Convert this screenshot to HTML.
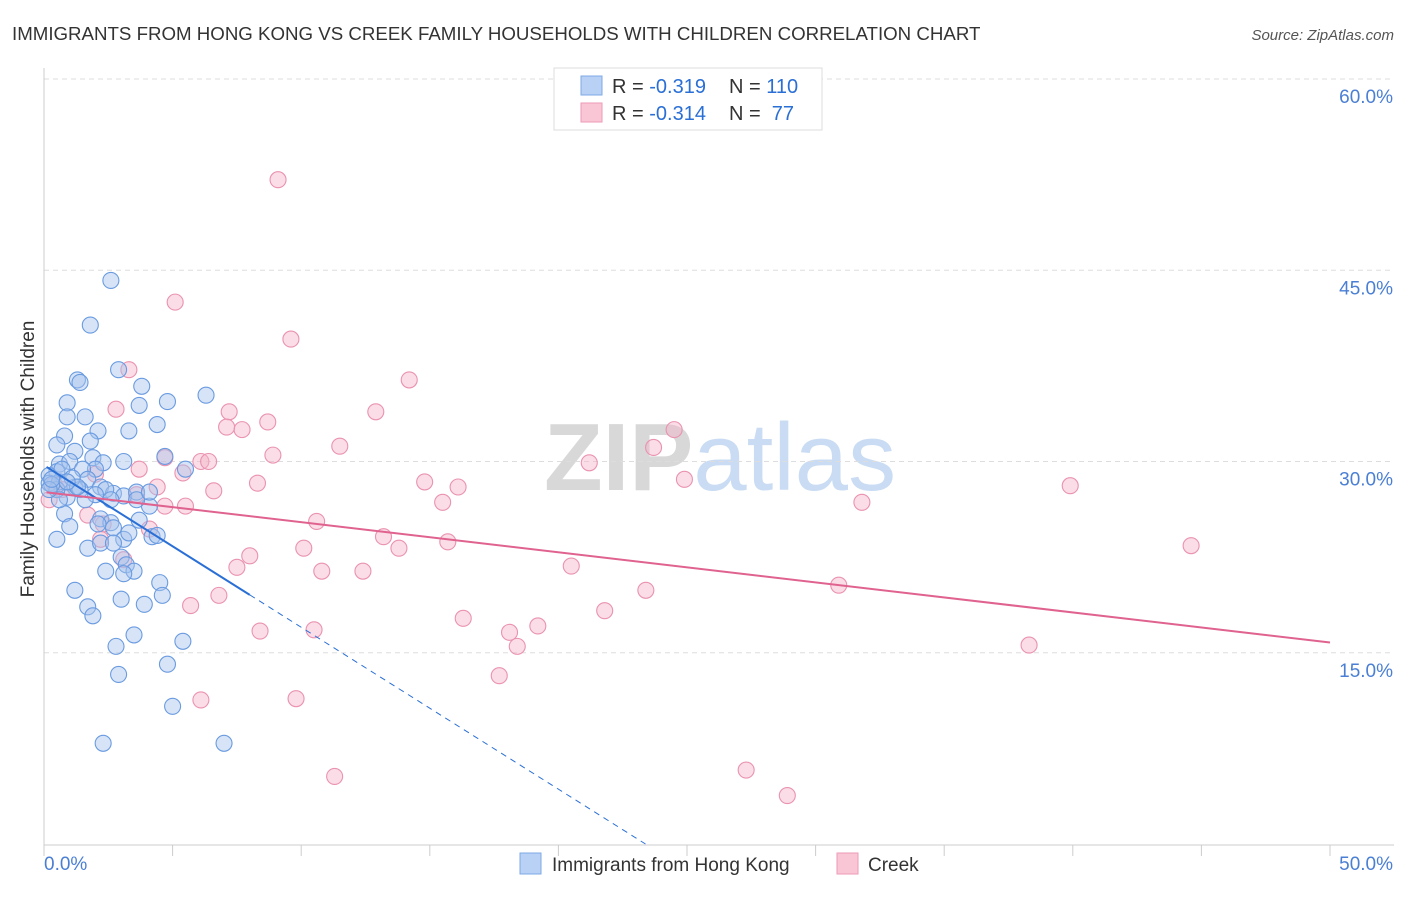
<!DOCTYPE html>
<html><head><meta charset="utf-8"><style>
body{margin:0;background:#fff;font-family:"Liberation Sans",sans-serif;}
svg text{font-family:"Liberation Sans",sans-serif;}
</style></head><body>
<svg id="chart" width="1406" height="892" xmlns="http://www.w3.org/2000/svg">
<text x="12" y="40" font-size="18.7" fill="#333">IMMIGRANTS FROM HONG KONG VS CREEK FAMILY HOUSEHOLDS WITH CHILDREN CORRELATION CHART</text>
<text x="1394" y="40" font-size="15" fill="#555" text-anchor="end" font-style="italic">Source: ZipAtlas.com</text>
<text x="720" y="490" font-size="96" text-anchor="middle" fill="#ddd" font-family="Liberation Serif"><tspan fill="#d8d8d8" font-weight="bold">ZIP</tspan><tspan fill="#c9dcf3" font-family="Liberation Sans">atlas</tspan></text>
<g id="grid"></g>
<g id="axes"></g>
<g id="pts"></g>
<g id="trends"></g>
<text transform="translate(34,459) rotate(-90)" font-size="19" fill="#333" text-anchor="middle">Family Households with Children</text>
<g>
<rect x="554" y="68" width="268" height="62" fill="#fff" stroke="#ddd"/>
<rect x="581" y="76" width="21" height="19" fill="#b8d1f5" stroke="#7ea9e6"/>
<rect x="581" y="103" width="21" height="19" fill="#f9c6d6" stroke="#ee9ab6"/>
<text x="612" y="93" font-size="20" fill="#333">R = <tspan fill="#2a6fd6">-0.319</tspan></text>
<text x="729" y="93" font-size="20" fill="#333">N = <tspan fill="#2a6fd6">110</tspan></text>
<text x="612" y="120" font-size="20" fill="#333">R = <tspan fill="#2a6fd6">-0.314</tspan></text>
<text x="729" y="120" font-size="20" fill="#333" xml:space="preserve">N =  <tspan fill="#2a6fd6">77</tspan></text>
</g>
<g>
<rect x="520" y="853" width="21" height="21" fill="#b8d1f5" stroke="#7ea9e6"/>
<text x="552" y="871" font-size="19" fill="#333">Immigrants from Hong Kong</text>
<rect x="837" y="853" width="21" height="21" fill="#f9c6d6" stroke="#ee9ab6"/>
<text x="868" y="871" font-size="19" fill="#333">Creek</text>
</g>
</svg>
<script>
const yTicks=[15,30,45,60];
const yTickLabels=["15.0%","30.0%","45.0%","60.0%"];
const xTicks=[0,5,10,15,20,25,30,35,40,45,50];
const blueX=[2.6,1.8,1.3,1.4,2.9,3.8,6.3,0.9,3.7,4.8,1.6,0.9,4.4,2.1,3.3,0.8,1.8,0.5,1.2,4.7,5.5,3.1,1.9,0.6,1.0,2.3,2.0,0.5,1.5,0.2,0.2,0.6,1.2,1.7,2.2,2.7,3.1,3.6,4.1,3.6,0.9,0.5,2.4,0.8,1.0,2.2,2.6,2.7,3.1,0.5,1.7,2.2,3.3,2.7,4.2,4.4,3.0,3.2,3.5,2.4,3.1,4.5,1.2,4.6,3.0,3.9,1.7,1.9,3.5,5.4,2.8,4.8,2.9,5.0,2.3,7.0,2.6,1.4,2.0,0.7,1.1,0.3,1.6,4.1,3.7,2.1,0.6,0.2,0.3,1.3,0.9];
const blueY=[44.2,40.7,36.4,36.2,37.2,35.9,35.2,34.6,34.4,34.7,33.5,33.5,32.9,32.4,32.4,32.0,31.6,31.3,30.8,30.4,29.4,30.0,30.3,29.8,30.0,29.9,29.4,29.2,29.4,28.9,28.3,28.4,28.0,28.6,28.0,27.5,27.3,27.6,26.5,27.0,27.2,27.8,27.8,25.9,24.9,25.5,25.2,24.8,23.9,23.9,23.2,23.6,24.4,23.6,24.1,24.2,22.5,21.9,21.4,21.4,21.2,20.5,19.9,19.5,19.2,18.8,18.6,17.9,16.4,15.9,15.5,14.1,13.3,10.8,7.9,7.9,27.0,27.8,27.4,29.4,28.7,28.2,27.0,27.6,25.4,25.1,27.0,27.8,28.6,28.0,28.4];
const pinkX=[9.1,5.1,9.6,3.3,14.2,2.8,7.2,12.9,8.7,7.7,7.1,24.5,11.5,23.7,4.7,8.9,21.2,6.1,6.4,3.7,5.4,39.9,14.8,16.1,24.9,8.3,4.4,6.6,2.0,0.4,0.7,0.2,15.5,31.8,5.5,4.7,3.6,1.7,10.6,2.3,4.1,13.2,15.7,44.6,10.1,8.0,13.8,7.5,10.8,12.4,20.5,30.9,23.4,6.8,5.7,21.8,16.3,19.2,18.1,8.4,10.5,18.4,38.3,17.7,6.1,9.8,11.3,27.3,28.9,2.2,3.1];
const pinkY=[52.1,42.5,39.6,37.2,36.4,34.1,33.9,33.9,33.1,32.5,32.7,32.5,31.2,31.1,30.3,30.5,29.9,30.0,30.0,29.4,29.1,28.1,28.4,28.0,28.6,28.3,28.0,27.7,29.0,28.2,27.8,27.0,26.8,26.8,26.5,26.5,27.4,25.8,25.3,25.1,24.7,24.1,23.7,23.4,23.2,22.6,23.2,21.7,21.4,21.4,21.8,20.3,19.9,19.5,18.7,18.3,17.7,17.1,16.6,16.7,16.8,15.5,15.6,13.2,11.3,11.4,5.3,5.8,3.8,23.9,22.3];
const blueTrend=[29.7,-1.27];
const pinkTrend=[27.6,-0.236];
const NS="http://www.w3.org/2000/svg";
const X0=44,X1=1330,Y0=844,YS=(844-79)/60;
const sx=v=>X0+(X1-X0)*v/50, sy=v=>Y0-v*YS;
function mk(t,a,p){const e=document.createElementNS(NS,t);for(const k in a)e.setAttribute(k,a[k]);p.appendChild(e);return e;}
const grid=document.getElementById('grid'),axes=document.getElementById('axes'),pts=document.getElementById('pts'),tr=document.getElementById('trends');
yTicks.forEach((v,i)=>{
 const l=mk('line',{x1:X0,x2:1394,y1:sy(v),y2:sy(v),stroke:'#ddd','stroke-dasharray':'5,4'},grid);
 
 
 const t=mk('text',{x:1393,y:sy(v)+24,'font-size':19,fill:'#4a7fd4','text-anchor':'end'},axes);
 t.textContent=yTickLabels[i];
 
 
});
mk('line',{x1:X0,x2:X0,y1:68,y2:845,stroke:'#ccc'},axes);
mk('line',{x1:X0,x2:1394,y1:845,y2:845,stroke:'#ccc'},axes);
xTicks.forEach(v=>{const l=mk('line',{x1:sx(v),x2:sx(v),y1:845,y2:856,stroke:'#ccc'},axes);
 
 });
let t=mk('text',{x:44,y:870,'font-size':19,fill:'#4a7fd4'},axes);t.textContent='0.0%';


t=mk('text',{x:1393,y:870,'font-size':19,fill:'#4a7fd4','text-anchor':'end'},axes);t.textContent='50.0%';


function dots(xs,ys,fill,stroke,name){xs.forEach((x,i)=>{const c=mk('circle',{cx:sx(x),cy:sy(ys[i]),r:8,fill:fill,'fill-opacity':0.45,stroke:stroke,'stroke-width':1.1},pts);
 
 });}
dots(pinkX,pinkY,'#f5b3c8','#ea92b0','creek-point');
dots(blueX,blueY,'#a7c4ee','#6a9be0','hong-kong-point');
const bf=x=>blueTrend[0]+blueTrend[1]*x, pf=x=>pinkTrend[0]+pinkTrend[1]*x;
let l=mk('line',{x1:sx(0.1),y1:sy(bf(0.1)),x2:sx(8),y2:sy(bf(8)),stroke:'#2a6fd6','stroke-width':2},tr);


const xz=-blueTrend[0]/blueTrend[1];
l=mk('line',{x1:sx(8),y1:sy(bf(8)),x2:sx(xz),y2:sy(0),stroke:'#2a6fd6','stroke-width':1,'stroke-dasharray':'6,5'},tr);


l=mk('line',{x1:sx(0.1),y1:sy(pf(0.1)),x2:sx(50),y2:sy(pf(50)),stroke:'#e0628f','stroke-width':2},tr);


</script>
</body></html>
